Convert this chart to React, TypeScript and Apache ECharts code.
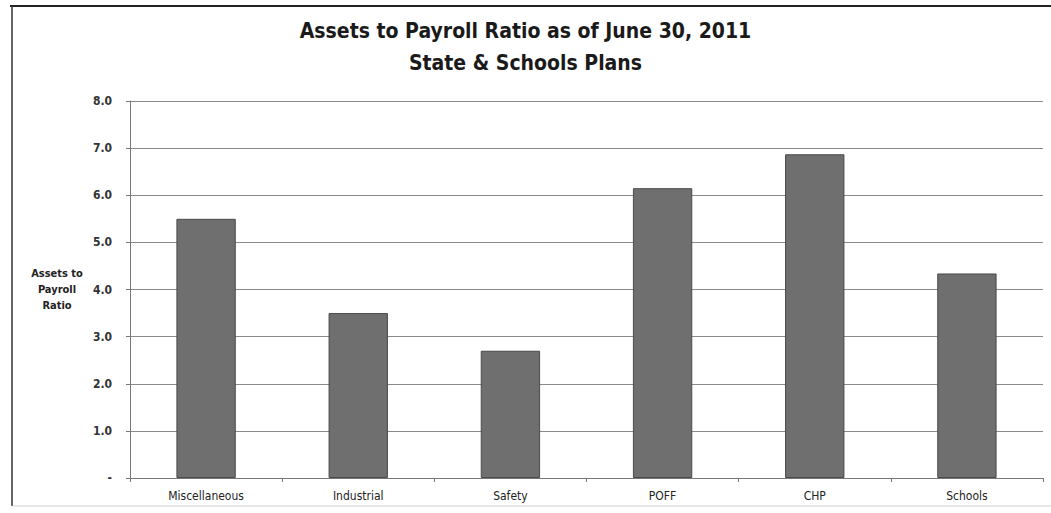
import React, { useEffect, useRef } from "react";
import * as echarts from "echarts";

const categories = ["Miscellaneous", "Industrial", "Safety", "POFF", "CHP", "Schools"];
const ratios = [5.5, 3.5, 2.7, 6.15, 6.87, 4.34];
const titleLines = ["Assets to Payroll Ratio as of June 30, 2011", "State & Schools Plans"];
const yAxisName = "Assets to\nPayroll\nRatio";

const FONT = "'DejaVu Sans Condensed', 'Liberation Sans Narrow', 'Open Sans', sans-serif";

export default function App() {
  const ref = useRef<HTMLDivElement>(null);
  useEffect(() => {
    document.body.style.margin = "0";
    if (!ref.current) return;
    const chart = echarts.init(ref.current, undefined, { renderer: "svg" });
    chart.setOption({
      animation: false,
      backgroundColor: "#ffffff",
      title: {
        text: titleLines[0] + "\n" + titleLines[1],
        left: "center",
        top: 10,
        textStyle: {
          fontFamily: FONT,
          fontWeight: "bold",
          fontSize: 21,
          lineHeight: 32,
          color: "#1a1a1a",
        },
      },
      graphic: [
        { type: "line", shape: { x1: 10, y1: 6, x2: 1051, y2: 6 }, style: { stroke: "#222", lineWidth: 2 } },
        { type: "line", shape: { x1: 12, y1: 6, x2: 12, y2: 506 }, style: { stroke: "#333", lineWidth: 1.5 } },
        { type: "line", shape: { x1: 12, y1: 506, x2: 1051, y2: 506 }, style: { stroke: "#ccc", lineWidth: 1 } },
        {
          type: "text",
          x: 57,
          y: 265,
          style: {
            text: yAxisName,
            fontFamily: FONT,
            fontWeight: "bold",
            fontSize: 11,
            lineHeight: 16,
            align: "center",
            fill: "#222",
          },
        },
      ],
      grid: { left: 130, right: 8, top: 101, bottom: 35, containLabel: false },
      xAxis: {
        type: "category",
        data: categories,
        boundaryGap: true,
        axisLine: { show: true, lineStyle: { color: "#777", width: 1 } },
        axisTick: { show: true, length: 4, alignWithLabel: false, lineStyle: { color: "#777" } },
        axisLabel: { fontFamily: FONT, fontSize: 12, color: "#222", margin: 12 },
      },
      yAxis: {
        type: "value",
        min: 0,
        max: 8,
        interval: 1,
        axisLine: { show: true, lineStyle: { color: "#777", width: 1 } },
        axisTick: { show: true, length: 4, lineStyle: { color: "#777" } },
        axisLabel: {
          fontFamily: FONT,
          fontSize: 12,
          fontWeight: "bold",
          color: "#333",
          margin: 18,
          formatter: (v: number) => (v === 0 ? "-" : v.toFixed(1)),
        },
        splitLine: { show: true, lineStyle: { color: "#8a8a8a", width: 1 } },
      },
      series: [
        {
          type: "bar",
          data: ratios,
          barWidth: "39%",
          itemStyle: { color: "#6f6f6f", borderColor: "#4a4a4a", borderWidth: 1 },
        },
      ],
    });
    return () => chart.dispose();
  }, []);
  return <div ref={ref} style={{ width: 1051, height: 513 }} />;
}
